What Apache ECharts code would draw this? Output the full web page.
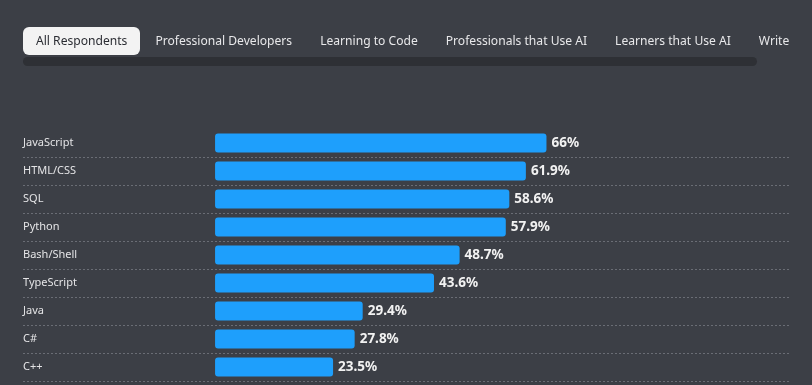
<!DOCTYPE html>
<html>
<head>
<meta charset="utf-8">
<script src="https://cdn.jsdelivr.net/npm/echarts@6/dist/echarts.min.js"></script>
<style>
  html, body { margin: 0; padding: 0; background: #3c3f46; overflow: hidden; }
  #wrap { position: relative; width: 812px; height: 385px; background: #3c3f46; }
  #tabs { position: absolute; left: 23px; top: 27px; width: 789px; height: 28px; overflow: hidden; white-space: nowrap;
          font-family: "Noto Sans", "Open Sans", sans-serif; font-size: 12.1px; }
  .tab { display: inline-block; height: 28px; line-height: 28px; padding: 0 13px; margin-right: 2px; color: #e8e8ea; border-radius: 6px; vertical-align: top; }
  .tab.active { background: #f3f3f3; color: #2b2d33; }
  #scroll { position: absolute; left: 23px; top: 57px; width: 734px; height: 9px; background: #2e3035; border-radius: 5px; }
  #chart { position: absolute; left: 0; top: 0; width: 812px; height: 385px; }
</style>
</head>
<body>
<div id="wrap">
  <div id="chart"></div>
  <div id="tabs"></div>
  <div id="scroll"></div>
</div>
<script>
const tabLabels = ["All Respondents", "Professional Developers", "Learning to Code", "Professionals that Use AI", "Learners that Use AI", "Write"];
const categories = ["JavaScript", "HTML/CSS", "SQL", "Python", "Bash/Shell", "TypeScript", "Java", "C#", "C++"];
const values = [66, 61.9, 58.6, 57.9, 48.7, 43.6, 29.4, 27.8, 23.5];

const tabs = document.getElementById('tabs');
tabLabels.forEach((t, i) => {
  const d = document.createElement('span');
  d.className = 'tab' + (i === 0 ? ' active' : '');
  d.textContent = t;
  tabs.appendChild(d);
});

const chart = echarts.init(document.getElementById('chart'), null, { renderer: 'canvas' });
chart.setOption({
  backgroundColor: '#3c3f46',
  animation: false,
  grid: { left: 23, right: 22, top: 129, height: 252, containLabel: false },
  xAxis: {
    type: 'value', min: -38.25, max: 114.5,
    show: false
  },
  yAxis: {
    type: 'category', data: categories, inverse: true,
    axisLine: { show: false }, axisTick: { show: false },
    axisLabel: {
      inside: true, margin: 0, color: '#e4e4e6', fontSize: 11,
      fontFamily: 'Noto Sans, Open Sans, sans-serif', align: 'left'
    },
    splitLine: {
      show: true,
      interval: function (i) { return i !== 0; },
      lineStyle: { color: '#6a6d75', type: [2, 2], width: 1 }
    }
  },
  series: [{
    type: 'bar', data: values, barWidth: 19,
    itemStyle: { color: '#1e9ffc', borderRadius: 3 },
    label: {
      show: true, position: 'right', distance: 5,
      formatter: p => p.value + '%',
      color: '#f2f2f2', fontWeight: 'bold', fontSize: 13.5,
      fontFamily: 'Noto Sans, Open Sans, sans-serif'
    }
  }]
});
</script>
</body>
</html>
